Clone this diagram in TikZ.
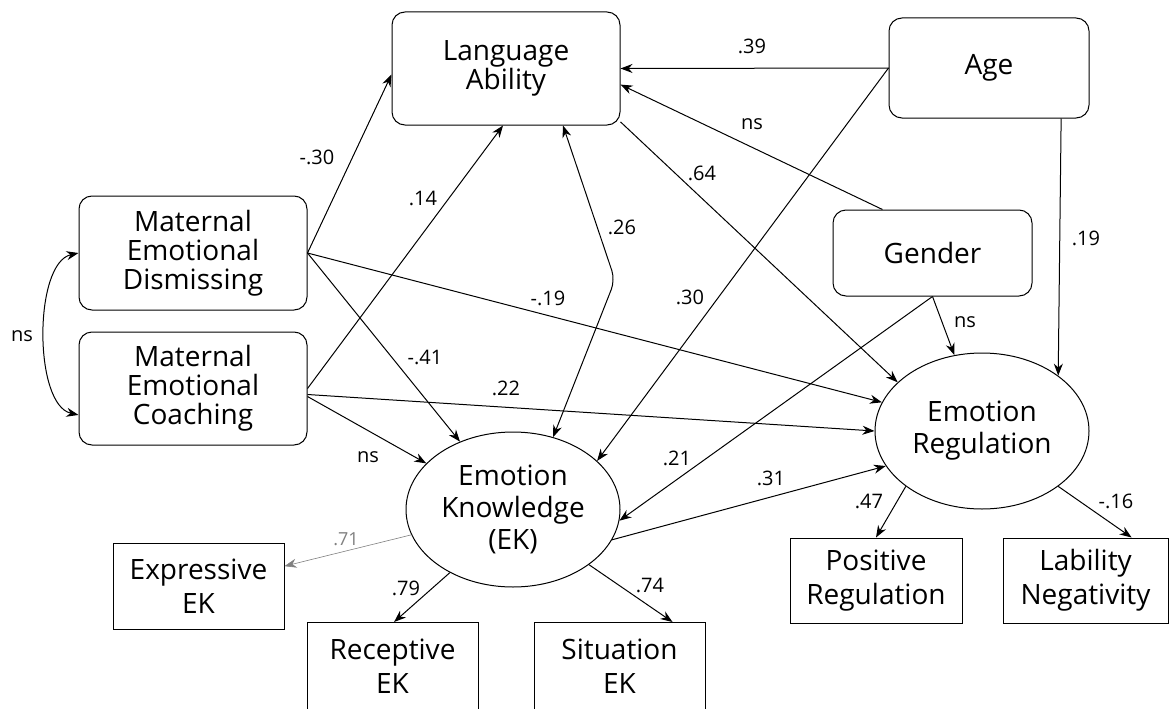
\documentclass[tikz,border=0pt]{standalone}
\usepackage{fontspec}
\setmainfont{Open Sans}
\usetikzlibrary{shapes.geometric, arrows.meta}

\begin{document}
\begin{tikzpicture}[x=1pt, y=-1pt, >={Stealth[length=12pt, width=9pt]}, line width=1pt,
	box/.style={draw, rounded corners=13pt, inner sep=0pt, align=center, font=\fontsize{28}{29}\selectfont},
	ind/.style={draw, inner sep=0pt, align=center, font=\fontsize{28}{34}\selectfont},
	latent/.style={draw, ellipse, inner xsep=-15pt, inner ysep=-10pt, align=center, font=\fontsize{28}{32}\selectfont},
	lbl/.style={font=\fontsize{20}{24}\selectfont, inner sep=1pt}]
		
		\useasboundingbox (0,0) rectangle (1170,709);
		
		% Knoten
		\node[box, minimum width=228pt, minimum height=113pt] (lang) at (506,68.5) {Language\\Ability};
		\node[box, minimum width=200pt, minimum height=100pt] (age) at (989,68) {Age};
		\node[box, minimum width=199pt, minimum height=86pt] (gender) at (932.5,253) {Gender};
		\node[box, minimum width=228pt, minimum height=114pt] (dism) at (193,253) {Maternal\\Emotional\\Dismissing};
		\node[box, minimum width=228pt, minimum height=113pt] (coach) at (193,388.5) {Maternal\\Emotional\\Coaching};
		
		% latente Variablen
		\node[latent, minimum width=214pt, minimum height=155pt] (ek) at (513,509.5) {Emotion\\Knowledge\\(EK)};
		\node[latent, minimum width=214pt, minimum height=156pt] (er) at (982,431) {Emotion\\Regulation};
		
		% Indikatoren
		\node[ind, minimum width=171pt, minimum height=86pt] (expr) at (198.5,586) {Expressive\\EK};
		\node[ind, minimum width=171pt, minimum height=88pt] (recep) at (392.5,666.5) {Receptive\\EK};
		\node[ind, minimum width=171pt, minimum height=88pt] (situ) at (619.5,666.5) {Situation\\EK};
		\node[ind, minimum width=172pt, minimum height=85pt] (pos) at (876,580.5) {Positive\\Regulation};
		\node[ind, minimum width=165pt, minimum height=85pt] (lab) at (1085.5,580.5) {Lability\\Negativity};
		
		% Pfade zur Sprache
		\draw[->] (age.west) -- (lang.east);
		\draw[->] (gender.139.6) -- (lang.-8.2);
		\draw[->] (dism.east) -- (lang.183);
		\draw[->] (coach.east) -- (lang.267);
		\coordinate (knick) at (615,280);
		\draw[<->, rounded corners=10pt] (lang.-45) -- (knick) -- (ek.61.7);
		
		% Pfade zu EK und ER
		\draw[->] (lang.-25) -- (er.150);
		\draw[->] (age.west) -- (ek.30.2);
		\draw[->] (age.-35.5) -- (er.36.9);
		\draw[->] (gender.south) -- (er.110.4);
		\draw[->] (gender.south) -- (ek.-6.5);
		\draw[->] (dism.east) -- (er.164.6);
		\draw[->] (dism.east) -- (ek.128.4);
		\draw[->] (coach.-3.3) -- (er.180.5);
		\draw[->] (coach.-4.8) -- (ek.152.1);
		\draw[->] (ek.-17.1) -- (er.200.4);
		\draw[<->] (dism.west) .. controls +(-45,10) and +(-45,-10) .. (coach.193);
		
		% Ladungen
		\draw[->, gray, line width=0.6pt] (ek.194) -- (expr.13.8);
		\draw[->] (ek.225.2) -- (recep.88);
		\draw[->] (ek.-36.6) -- (situ.40.2);
		\draw[->] (er.216.9) -- (pos.north);
		\draw[->] (er.-36.4) -- (lab.43.7);
		
		% Koeffizienten
		\node[lbl] (c39) at (752,46) {.39};
		\node[lbl] (cns1) at (752,124) {ns};
		\node[lbl] (c30a) at (317,157) {-.30};
		\node[lbl] (c14) at (423,198) {.14};
		\node[lbl] (c26) at (622,227) {.26};
		\node[lbl] (c64) at (702,173) {.64};
		\node[lbl] (c19a) at (1086,238) {.19};
		\node[lbl] (c30b) at (690,297) {.30};
		\node[lbl] (c19b) at (548,298) {-.19};
		\node[lbl] (cns2) at (965,322) {ns};
		\node[lbl] (cns3) at (22,336) {ns};
		\node[lbl] (c41) at (425,357) {-.41};
		\node[lbl] (c22) at (506,388) {.22};
		\node[lbl] (cns4) at (368,457) {ns};
		\node[lbl] (c21) at (677,458) {.21};
		\node[lbl] (c31) at (771,478) {.31};
		\node[lbl] (c47) at (869,501) {.47};
		\node[lbl] (c16) at (1116,501) {-.16};
		\node[lbl, gray, font=\fontsize{18}{22}\selectfont] (c71) at (346,539) {.71};
		\node[lbl] (c79) at (406,588) {.79};
		\node[lbl] (c74) at (650,585) {.74};
		
	\end{tikzpicture}
\end{document}
